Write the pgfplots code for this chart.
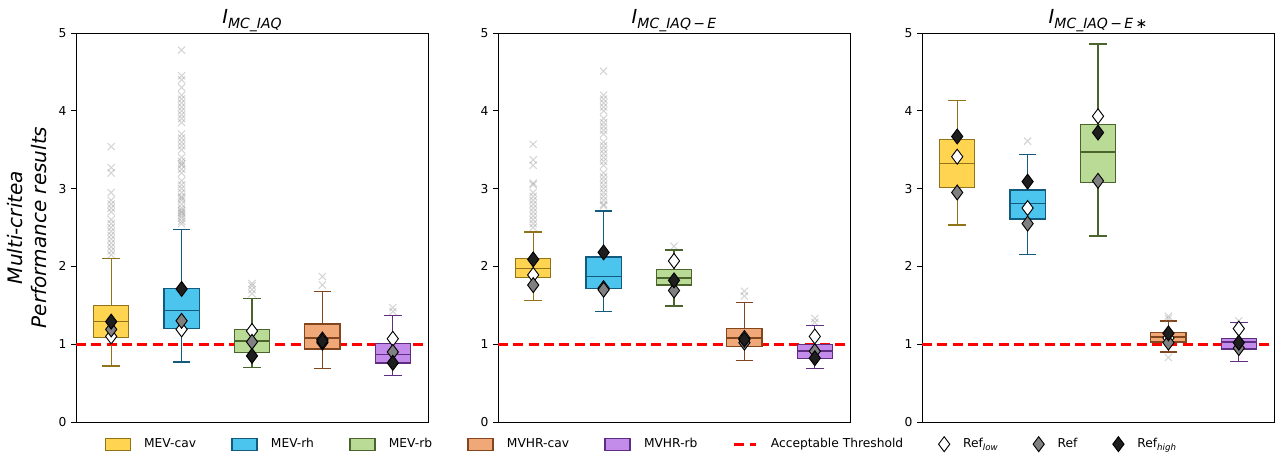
\documentclass[border=0pt]{standalone}
\usepackage{fontspec}
\setmainfont{DejaVu Sans}
\usepackage{pgfplots}
\pgfplotsset{compat=1.18}
\usepgfplotslibrary{statistics}

\definecolor{cavF}{RGB}{255,212,80}\definecolor{cavE}{RGB}{145,115,25}
\definecolor{rhF}{RGB}{75,196,238}\definecolor{rhE}{RGB}{20,90,125}
\definecolor{rbF}{RGB}{185,219,150}\definecolor{rbE}{RGB}{75,100,45}
\definecolor{mcF}{RGB}{240,168,120}\definecolor{mcE}{RGB}{130,70,30}
\definecolor{mrF}{RGB}{195,140,235}\definecolor{mrE}{RGB}{95,45,130}
\definecolor{dkd}{RGB}{30,30,30}

\newcommand{\bx}[7]{%
  \addplot[forget plot, draw=#7E, fill=#7F, line width=1pt,
    boxplot/every whisker/.style={draw=#7E, line width=1pt},
    boxplot/every median/.style={draw=#7E, line width=1.1pt},
    boxplot prepared={draw position=#1, lower whisker=#2, lower quartile=#3,
      median=#4, upper quartile=#5, upper whisker=#6, box extend=0.5, whisker extend=0.25}]
    coordinates {};}

\tikzset{thrline/.style={red, line width=2pt, dash pattern=on 7.5pt off 4pt}}
\pgfplotsset{
  panel/.style={
    scale only axis, width=264pt, height=291.75pt,
    xmin=0.5, xmax=5.5, ymin=0, ymax=5,
    xtick=\empty, ytick={0,1,2,3,4,5},
    tick align=outside, ytick pos=left,
    major tick length=3.6pt,
    every tick/.style={black, line width=0.6pt},
    axis line style={line width=0.6pt},
    boxplot/draw direction=y,
    /pgf/number format/assume math mode=true,
    yticklabel style={font=\fontsize{9.2}{11}\selectfont},
    title style={font=\fontsize{14.5}{16}\selectfont, yshift=-8.5pt},
    clip=false,
  },
  outl/.style={forget plot, only marks, mark=x, mark size=3.8pt, mark options={draw=gray, draw opacity=0.33, line width=0.8pt}},
  dlow/.style={only marks, mark=diamond*, mark size=5.6pt, mark options={fill=white, draw=black, line width=0.7pt}},
  dref/.style={only marks, mark=diamond*, mark size=5.6pt, mark options={fill=gray, draw=black, line width=0.7pt}},
  dhigh/.style={only marks, mark=diamond*, mark size=5.6pt, mark options={fill=dkd, draw=black, line width=0.7pt}},
}
\newcommand{\sub}[1]{\raisebox{-0.45ex}{\fontsize{10.5}{12}\selectfont #1}}
\newcommand{\lsub}[1]{\raisebox{-0.4ex}{\fontsize{6.5}{7}\selectfont\itshape #1}}

\begin{document}
\begin{tikzpicture}
\useasboundingbox (-57pt,-25.5pt) rectangle (900.75pt,316.5pt);

% ---------- panel 1
\begin{axis}[panel, at={(0pt,0pt)}, anchor=south west,
  title={\textit{I}\sub{\textit{MC\_IAQ}}},
  ylabel={Multi-critea\\Performance results},
  ylabel style={font=\fontsize{15}{18}\selectfont\itshape, align=center, at={(axis description cs:-0.14,0.5)}, anchor=center},
  legend columns=9,
  legend style={at={(1.607,-0.057)}, anchor=center, draw=none, fill=none,
    font=\fontsize{9.2}{11}\selectfont, inner sep=0pt,
    /tikz/every odd column/.append style={column sep=8pt},
    /tikz/every even column/.append style={column sep=24.5pt}},
]
\addplot[thrline, forget plot] coordinates {(0.5,1) (5.5,1)};
\bx{1}{0.72}{1.09}{1.29}{1.50}{2.10}{cav}
\bx{2}{0.77}{1.20}{1.43}{1.72}{2.47}{rh}
\bx{3}{0.70}{0.89}{1.04}{1.19}{1.59}{rb}
\bx{4}{0.69}{0.94}{1.08}{1.26}{1.68}{mc}
\bx{5}{0.60}{0.76}{0.87}{1.01}{1.37}{mr}
\addplot[outl] coordinates {
 (1,2.15)(1,2.20)(1,2.25)(1,2.30)(1,2.35)(1,2.40)(1,2.45)(1,2.50)(1,2.55)(1,2.60)(1,2.70)(1,2.75)(1,2.80)(1,2.85)(1,2.95)(1,3.20)(1,3.27)(1,3.54)
 (2,2.55)(2,2.58)(2,2.62)(2,2.65)(2,2.68)(2,2.70)(2,2.72)(2,2.75)(2,2.80)(2,2.85)(2,2.88)(2,2.90)(2,2.95)(2,3.00)(2,3.05)(2,3.10)(2,3.20)(2,3.25)(2,3.30)(2,3.32)(2,3.35)(2,3.40)(2,3.50)(2,3.55)(2,3.60)(2,3.65)(2,3.70)(2,3.85)(2,3.90)(2,3.95)(2,4.00)(2,4.05)(2,4.10)(2,4.15)(2,4.20)(2,4.30)(2,4.40)(2,4.45)(2,4.78)
 (3,1.65)(3,1.70)(3,1.75)(3,1.78)
 (4,1.76)(4,1.87)
 (5,1.42)(5,1.47)};
\addplot[dlow, forget plot] coordinates {(1,1.10)(2,1.19)(3,1.17)(4,1.06)(5,1.07)};
\addplot[dref, forget plot] coordinates {(1,1.19)(2,1.30)(3,1.03)(4,1.02)(5,0.90)};
\addplot[dhigh, forget plot] coordinates {(1,1.29)(2,1.71)(3,0.85)(4,1.04)(5,0.76)};
% legend
\addlegendimage{legend image code/.code={\draw[draw=cavE, fill=cavF, line width=0.9pt] (0pt,-4.5pt) rectangle (18.75pt,4.5pt);}}
\addlegendentry{MEV-cav}
\addlegendimage{legend image code/.code={\draw[draw=rhE, fill=rhF, line width=0.9pt] (0pt,-4.5pt) rectangle (18.75pt,4.5pt);}}
\addlegendentry{MEV-rh}
\addlegendimage{legend image code/.code={\draw[draw=rbE, fill=rbF, line width=0.9pt] (0pt,-4.5pt) rectangle (18.75pt,4.5pt);}}
\addlegendentry{MEV-rb}
\addlegendimage{legend image code/.code={\draw[draw=mcE, fill=mcF, line width=0.9pt] (0pt,-4.5pt) rectangle (18.75pt,4.5pt);}}
\addlegendentry{MVHR-cav}
\addlegendimage{legend image code/.code={\draw[draw=mrE, fill=mrF, line width=0.9pt] (0pt,-4.5pt) rectangle (18.75pt,4.5pt);}}
\addlegendentry{MVHR-rb}
\addlegendimage{legend image code/.code={\draw[thrline] (0pt,0pt) -- (16.5pt,0pt);}}
\addlegendentry{Acceptable Threshold}
\addlegendimage{dlow}
\addlegendentry{Ref\lsub{low}}
\addlegendimage{dref}
\addlegendentry{Ref}
\addlegendimage{dhigh}
\addlegendentry{Ref\lsub{high}}
\end{axis}

% ---------- panel 2
\begin{axis}[panel, at={(316.5pt,0pt)}, anchor=south west,
  title={\textit{I}\sub{\textit{MC\_IAQ}\,−\,\textit{E}}}]
\addplot[thrline] coordinates {(0.5,1) (5.5,1)};
\bx{1}{1.56}{1.86}{1.97}{2.10}{2.44}{cav}
\bx{2}{1.42}{1.72}{1.87}{2.12}{2.71}{rh}
\bx{3}{1.49}{1.76}{1.85}{1.96}{2.21}{rb}
\bx{4}{0.79}{0.97}{1.08}{1.20}{1.54}{mc}
\bx{5}{0.69}{0.82}{0.91}{1.00}{1.24}{mr}
\addplot[outl] coordinates {
 (1,2.50)(1,2.55)(1,2.60)(1,2.65)(1,2.70)(1,2.75)(1,2.80)(1,2.85)(1,2.90)(1,2.95)(1,3.05)(1,3.07)(1,3.30)(1,3.37)(1,3.57)
 (2,2.78)(2,2.80)(2,2.85)(2,2.90)(2,2.95)(2,3.00)(2,3.05)(2,3.10)(2,3.15)(2,3.20)(2,3.30)(2,3.35)(2,3.40)(2,3.45)(2,3.50)(2,3.55)(2,3.60)(2,3.70)(2,3.75)(2,3.80)(2,3.85)(2,3.90)(2,4.00)(2,4.05)(2,4.10)(2,4.15)(2,4.20)(2,4.51)
 (3,2.26)
 (4,1.62)(4,1.68)
 (5,1.28)(5,1.33)};
\addplot[dlow] coordinates {(1,1.89)(2,1.72)(3,2.07)(4,1.08)(5,1.10)};
\addplot[dref] coordinates {(1,1.76)(2,1.70)(3,1.69)(4,1.02)(5,0.91)};
\addplot[dhigh] coordinates {(1,2.09)(2,2.18)(3,1.82)(4,1.06)(5,0.82)};
\end{axis}

% ---------- panel 3
\begin{axis}[panel, at={(634.5pt,0pt)}, anchor=south west,
  title={\textit{I}\sub{\textit{MC\_IAQ}\,−\,\textit{E}\,∗}}]
\addplot[thrline] coordinates {(0.5,1) (5.5,1)};
\bx{1}{2.53}{3.01}{3.32}{3.63}{4.13}{cav}
\bx{2}{2.15}{2.61}{2.81}{2.98}{3.44}{rh}
\bx{3}{2.39}{3.08}{3.47}{3.82}{4.86}{rb}
\bx{4}{0.90}{1.03}{1.09}{1.15}{1.30}{mc}
\bx{5}{0.78}{0.94}{1.03}{1.07}{1.28}{mr}
\addplot[outl] coordinates {(2,3.61)(4,1.33)(4,1.36)(4,0.83)(5,1.30)};
\addplot[dlow] coordinates {(1,3.41)(2,2.75)(3,3.93)(4,1.08)(5,1.20)};
\addplot[dref] coordinates {(1,2.95)(2,2.55)(3,3.10)(4,1.02)(5,0.95)};
\addplot[dhigh] coordinates {(1,3.67)(2,3.09)(3,3.72)(4,1.14)(5,1.02)};
\end{axis}
\end{tikzpicture}
\end{document}
